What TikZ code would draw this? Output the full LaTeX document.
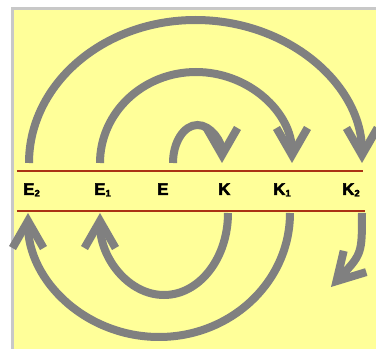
\documentclass[tikz,border=0pt]{standalone}
\usepackage{fontspec}
\setmainfont{Liberation Sans}
\newfontfamily\lblfam[FakeBold=2.5]{Liberation Sans Bold}
\usetikzlibrary{arrows.meta}
\definecolor{bgyellow}{RGB}{255,255,153}
\definecolor{framegray}{RGB}{200,200,200}
\definecolor{arrgray}{RGB}{128,128,128}
\definecolor{rline}{RGB}{170,50,20}
\newcommand{\lblsub}[1]{\raisebox{-1.5pt}{\fontsize{9.5}{9.5}\selectfont #1}}
\newcommand{\lblfont}{\lblfam\fontsize{17}{17}\selectfont}
\begin{document}
\begin{tikzpicture}[x=1pt,y=1pt,
  cyc/.style={draw=arrgray, line width=8pt, -{Straight Barb[length=27pt,width=31pt]}},
  lbl/.style={anchor=base west, inner sep=0pt},
  sep/.style={draw=rline, line width=2pt}]
\useasboundingbox (0,0) rectangle (376,349);
\fill[white] (0,0) rectangle (376,349);
\fill[framegray] (11,0) rectangle (376,342);
\fill[bgyellow] (14,0) rectangle (376,339);
% separator lines
\coordinate (t1) at (17,178); \coordinate (t2) at (363,178);
\coordinate (b1) at (17,138); \coordinate (b2) at (365,138);
\draw[sep] (t1) -- (t2);
\draw[sep] (b1) -- (b2);
% labels
\node[lbl] (E2) at (23,154) {\lblfont E\lblsub{2}};
\node[lbl] (E1) at (94,154) {\lblfont E\lblsub{1}};
\node[lbl] (E)  at (157,154) {\lblfont E};
\node[lbl] (K)  at (218,154) {\lblfont K};
\node[lbl] (K1) at (273,154) {\lblfont K\lblsub{1}};
\node[lbl] (K2) at (342,154) {\lblfont K\lblsub{2}};
% arc endpoints
\coordinate (uE2) at (29,186);
\coordinate (uE1) at (100,186);
\coordinate (uE)  at (173,186);
\coordinate (dK)  at (228,136);
\coordinate (dK1) at (290,136);
\coordinate (dK2) at (362,136);
\coordinate (endK2) at (331,62);
% upper arcs
\draw[cyc] (uE2) arc[start angle=180, end angle=0, x radius=166.5, y radius=143];
\draw[cyc] (uE1) arc[start angle=180, end angle=0, x radius=96, y radius=91];
\draw[cyc] (uE) arc[start angle=180, end angle=0, x radius=24.5, y radius=38];
% lower arcs
\draw[cyc] (dK) arc[start angle=0, end angle=-180, x radius=64, y radius=82];
\draw[cyc] (dK1) arc[start angle=0, end angle=-180, x radius=131, y radius=124];
\draw[cyc] (dK2) .. controls (362,95) .. (endK2);
\end{tikzpicture}
\end{document}
